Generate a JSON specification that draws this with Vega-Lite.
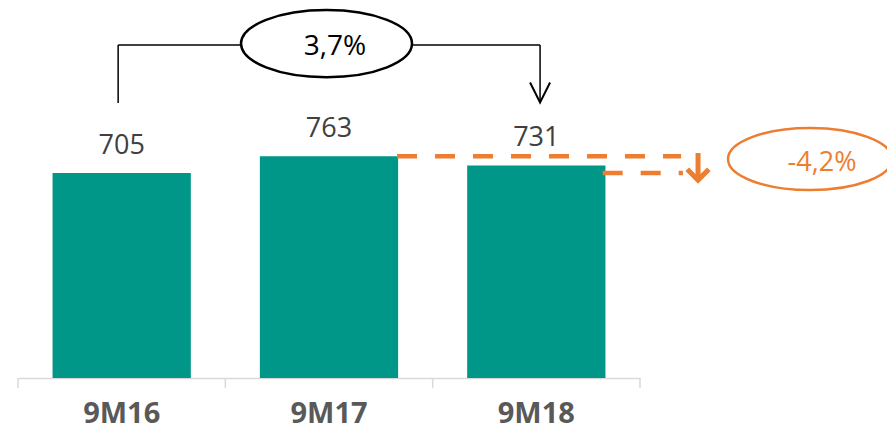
{
  "$schema": "https://vega.github.io/schema/vega-lite/v6.json",
  "autosize": "none",
  "width": 622,
  "height": 378,
  "padding": {"left": 18, "top": 0, "right": 247, "bottom": 53},
  "background": "white",
  "config": {"view": {"stroke": null}, "font": "Open Sans"},
  "datasets": {
    "bars": [
      {"cat": "9M16", "v": 705},
      {"cat": "9M17", "v": 763},
      {"cat": "9M18", "v": 731}
    ],
    "ticks": [
      {"ax": 0, "v1": 0, "v2": -34},
      {"ax": 1, "v1": 0, "v2": -34},
      {"ax": 2, "v1": 0, "v2": -34},
      {"ax": 3, "v1": 0, "v2": -34}
    ],
    "bracket": [
      {"x1": 0.483, "y1": 946, "x2": 0.483, "y2": 1145},
      {"x1": 0.483, "y1": 1145, "x2": 2.518, "y2": 1145},
      {"x1": 2.518, "y1": 1145, "x2": 2.518, "y2": 950}
    ],
    "dashes": [
      {"x1": 1.828, "y1": 763, "x2": 3.198, "y2": 763},
      {"x1": 2.82, "y1": 705, "x2": 3.207, "y2": 705}
    ],
    "blackArrow": [{"ax": 2.518, "v": 982}],
    "blackBubble": [{"ax": 1.488, "v": 1150}],
    "blackText": [{"ax": 1.529, "v": 1111, "t": "3,7%"}],
    "orangeArrow": [{"ax": 3.28, "v": 727}],
    "orangeBubble": [{"ax": 3.82, "v": 753}],
    "orangeText": [{"ax": 3.878, "v": 712, "t": "-4,2%"}]
  },
  "layer": [
    {
      "data": {"name": "bars"},
      "layer": [
        {
          "mark": {"type": "bar", "color": "#009688"},
          "encoding": {
            "x": {
              "field": "cat", "type": "nominal", "sort": null,
              "scale": {"paddingInner": 0.333, "paddingOuter": 0.1667},
              "axis": {
                "title": null, "labelAngle": 0,
                "domainColor": "#d9d9d9", "domainWidth": 1.5,
                "tickOpacity": 0, "tickSize": 10,
                "labelFont": "Open Sans", "labelFontWeight": "bold", "labelFontSize": 29,
                "labelColor": "#595959", "labelBaseline": "alphabetic", "labelPadding": 34
              }
            },
            "y": {"field": "v", "type": "quantitative", "scale": {"domain": [0, 1300], "nice": false}, "axis": null}
          }
        },
        {
          "mark": {"type": "text", "dy": -19, "baseline": "alphabetic", "align": "center", "fontSize": 27, "color": "#404040", "font": "Open Sans"},
          "encoding": {
            "x": {"field": "cat", "type": "nominal", "sort": null},
            "y": {"field": "v", "type": "quantitative"},
            "text": {"field": "v", "type": "quantitative"}
          }
        }
      ]
    },
    {
      "layer": [
        {
          "data": {"name": "ticks"},
          "mark": {"type": "rule", "color": "#d9d9d9", "strokeWidth": 1.5},
          "encoding": {
            "x": {"field": "ax", "type": "quantitative", "scale": {"domain": [0, 3], "nice": false, "zero": false}, "axis": null},
            "y": {"field": "v1", "type": "quantitative"},
            "y2": {"field": "v2"}
          }
        },
        {
          "data": {"name": "bracket"},
          "mark": {"type": "rule", "color": "#000000", "strokeWidth": 1.5},
          "encoding": {
            "x": {"field": "x1", "type": "quantitative"},
            "x2": {"field": "x2"},
            "y": {"field": "y1", "type": "quantitative"},
            "y2": {"field": "y2"}
          }
        },
        {
          "data": {"name": "dashes"},
          "mark": {"type": "rule", "color": "#ED7D31", "strokeWidth": 4.5, "strokeDash": [20, 18]},
          "encoding": {
            "x": {"field": "x1", "type": "quantitative"},
            "x2": {"field": "x2"},
            "y": {"field": "y1", "type": "quantitative"},
            "y2": {"field": "y2"}
          }
        },
        {
          "data": {"name": "blackArrow"},
          "mark": {"type": "point", "shape": "M-1,-1L0,1L1,-1", "filled": false, "stroke": "#000000", "strokeWidth": 2, "size": 400, "opacity": 1},
          "encoding": {
            "x": {"field": "ax", "type": "quantitative"},
            "y": {"field": "v", "type": "quantitative"}
          }
        },
        {
          "data": {"name": "blackBubble"},
          "mark": {"type": "point", "shape": "M-1,0C-1,-0.2165 -0.5523,-0.392 0,-0.392C0.5523,-0.392 1,-0.2165 1,0C1,0.2165 0.5523,0.392 0,0.392C-0.5523,0.392 -1,0.2165 -1,0Z", "filled": true, "fill": "#ffffff", "stroke": "#000000", "strokeWidth": 2.5, "size": 29241, "opacity": 1, "fillOpacity": 1},
          "encoding": {
            "x": {"field": "ax", "type": "quantitative"},
            "y": {"field": "v", "type": "quantitative"}
          }
        },
        {
          "data": {"name": "blackText"},
          "mark": {"type": "text", "baseline": "alphabetic", "align": "center", "fontSize": 28, "color": "#000000", "font": "Open Sans"},
          "encoding": {
            "x": {"field": "ax", "type": "quantitative"},
            "y": {"field": "v", "type": "quantitative"},
            "text": {"field": "t"}
          }
        },
        {
          "data": {"name": "orangeArrow"},
          "mark": {"type": "point", "shape": "M-0.8,0.2L0,1L0.8,0.2M0,1L0,-1", "filled": false, "stroke": "#ED7D31", "strokeWidth": 5, "size": 729, "opacity": 1},
          "encoding": {
            "x": {"field": "ax", "type": "quantitative"},
            "y": {"field": "v", "type": "quantitative"}
          }
        },
        {
          "data": {"name": "orangeBubble"},
          "mark": {"type": "point", "shape": "M-1,0C-1,-0.2088 -0.5523,-0.378 0,-0.378C0.5523,-0.378 1,-0.2088 1,0C1,0.2088 0.5523,0.378 0,0.378C-0.5523,0.378 -1,0.2088 -1,0Z", "filled": true, "fill": "#ffffff", "stroke": "#ED7D31", "strokeWidth": 2.5, "size": 26896, "opacity": 1, "fillOpacity": 1},
          "encoding": {
            "x": {"field": "ax", "type": "quantitative"},
            "y": {"field": "v", "type": "quantitative"}
          }
        },
        {
          "data": {"name": "orangeText"},
          "mark": {"type": "text", "baseline": "alphabetic", "align": "center", "fontSize": 27, "color": "#ED7D31", "font": "Open Sans"},
          "encoding": {
            "x": {"field": "ax", "type": "quantitative"},
            "y": {"field": "v", "type": "quantitative"},
            "text": {"field": "t"}
          }
        }
      ]
    }
  ],
  "resolve": {"scale": {"x": "independent"}, "axis": {"x": "independent"}}
}
